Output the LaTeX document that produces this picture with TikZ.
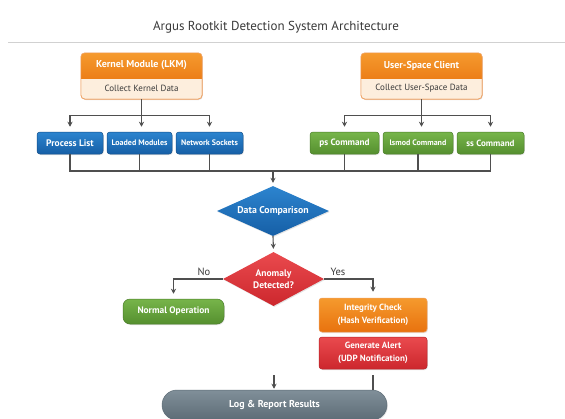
\documentclass[tikz,border=0pt]{standalone}
\usepackage{fontspec}
\setmainfont{PT Sans}
\usetikzlibrary{shapes.geometric,shadows,arrows.meta}
\definecolor{linec}{HTML}{4F4F4F}
\definecolor{titlec}{HTML}{3A3A3A}
\definecolor{ort}{HTML}{F59A2E}
\definecolor{ord}{HTML}{E8720E}
\definecolor{orb}{HTML}{F0A060}
\definecolor{lightor}{HTML}{FDEEDD}
\definecolor{bluet}{HTML}{2C84CF}
\definecolor{blued}{HTML}{165FA6}
\definecolor{blueb}{HTML}{134F8A}
\definecolor{greent}{HTML}{77B54A}
\definecolor{greend}{HTML}{558F2F}
\definecolor{greenb}{HTML}{4A7D29}
\definecolor{redt}{HTML}{EA4A4E}
\definecolor{redd}{HTML}{CC272D}
\definecolor{redb}{HTML}{B52227}
\definecolor{grayt}{HTML}{808F99}
\definecolor{grayd}{HTML}{5D6C76}
\newcommand{\fs}[1]{\fontsize{#1}{#1}\selectfont}
\begin{document}
\begin{tikzpicture}[x=1pt,y=-1pt,
  line/.style={draw=linec, line width=1.1pt},
  arr/.style={line, -{Stealth[length=5pt,width=5pt]}},
  shad/.style={drop shadow={opacity=0.22, shadow xshift=0.8pt, shadow yshift=-1pt}},
  boxbase/.style={rounded corners=3pt, inner sep=0pt, text=white, shad, line width=0.5pt},
  bluebox/.style={boxbase, draw=blueb, top color=bluet, bottom color=blued, minimum height=22pt},
  greenbox/.style={boxbase, draw=greenb, top color=greent, bottom color=greend, minimum height=22pt},
  hdr/.style={text=white, font=\bfseries\fs{10}, inner sep=0pt},
  sub/.style={text=titlec, font=\fs{9}, inner sep=0pt},
  diam/.style={diamond, inner sep=0pt, text=white, shad, align=center},
  lbl/.style={text=titlec, font=\fs{10.5}, inner sep=0pt}
]
\useasboundingbox (0,0) rectangle (565,418);
\fill[white] (0,0) rectangle (565,418);

% title
\node[text=titlec, font=\fs{13}, inner sep=0pt] (title) at (276,27) {Argus Rootkit Detection System Architecture};
\draw[black!18, line width=0.8pt] (8,42) -- (565,42);

% kernel module box
\node[draw=orb, fill=lightor, rounded corners=4pt, minimum width=121pt, minimum height=46pt, inner sep=0pt, shad] (kernbox) at (141.5,76) {};
\begin{scope}
  \clip (81,53) rectangle (202,78);
  \shade[top color=ort, bottom color=ord, rounded corners=4pt] (81,53) rectangle (202,90);
\end{scope}
\draw[orb, rounded corners=4pt, line width=0.6pt] (kernbox.north west) rectangle (kernbox.south east);
\node[hdr] (kern) at (141.5,65.5) {Kernel Module (LKM)};
\node[sub] (kernd) at (141.5,88.5) {Collect Kernel Data};

% user space box
\node[draw=orb, fill=lightor, rounded corners=4pt, minimum width=121pt, minimum height=46pt, inner sep=0pt, shad] (usrbox) at (421.5,76) {};
\begin{scope}
  \clip (361,53) rectangle (482,78);
  \shade[top color=ort, bottom color=ord, rounded corners=4pt] (361,53) rectangle (482,90);
\end{scope}
\draw[orb, rounded corners=4pt, line width=0.6pt] (usrbox.north west) rectangle (usrbox.south east);
\node[hdr] (usr) at (421.5,65.5) {User-Space Client};
\node[sub] (usrd) at (421.5,88.5) {Collect User-Space Data};

% data source boxes
\node[bluebox, minimum width=66pt, font=\bfseries\fs{9.5}] (proc) at (70,143) {Process List};
\node[bluebox, minimum width=65pt, font=\bfseries\fs{8}] (lmod) at (139.5,143) {Loaded Modules};
\node[bluebox, minimum width=67pt, font=\bfseries\fs{8}] (nsock) at (209.5,143) {Network Sockets};
\node[greenbox, minimum width=69pt, font=\bfseries\fs{9.2}] (psc) at (344.5,143) {ps Command};
\node[greenbox, minimum width=70pt, font=\bfseries\fs{8}] (lsm) at (418,143) {lsmod Command};
\node[greenbox, minimum width=67pt, font=\bfseries\fs{9}] (ssc) at (490.5,143) {ss Command};

% branches from collectors
\draw[line] (kernbox.south) -- ++(0,16) coordinate (kj);
\draw[arr, shorten >=5pt] (kj) -| (proc.north);
\draw[arr, shorten >=5pt] (kj) -- (kj |- lmod.north);
\draw[arr, shorten >=5pt] (kj) -| (nsock.north);
\draw[line] (usrbox.south) -- ++(0,16) coordinate (uj);
\draw[arr, shorten >=5pt] (uj) -| (psc.north);
\draw[arr, shorten >=5pt] (uj) -- (uj |- lsm.north);
\draw[arr, shorten >=5pt] (uj) -| (ssc.north);

% diamonds
\node[diam, aspect=2.24, minimum width=112pt, minimum height=50pt, top color=bluet, bottom color=blued, font=\bfseries\fs{9.8}] (cmp) at (273,211) {Data Comparison};
\node[diam, aspect=1.87, minimum width=101pt, minimum height=54pt, top color=redt, bottom color=redd, font=\bfseries\fontsize{9.5}{12.5}\selectfont] (anom) at (273.5,279) {Anomaly\\Detected?};

% bus
\coordinate (busy) at (0,171);
\draw[line] (proc.south) |- (ssc.south |- busy) -- (ssc.south);
\foreach \n in {lmod,nsock,psc,lsm} {\draw[line] (\n.south) -- (\n.south |- busy);}
\draw[arr, shorten >=3pt] (cmp.north |- busy) -- (cmp.north);
\draw[arr, shorten >=3pt] (cmp.south) -- (anom.north);

% outcomes
\node[boxbase, rounded corners=7pt, draw=greenb, top color=greent, bottom color=greend, minimum width=101pt, minimum height=25pt, font=\bfseries\fs{9.4}] (norm) at (173.5,311.5) {Normal Operation};
\node[boxbase, draw=orb, top color=ort, bottom color=ord, minimum width=108pt, minimum height=34pt, align=center, font=\bfseries\fontsize{9}{13}\selectfont] (integ) at (373,315) {Integrity Check\\(Hash Verification)};
\node[boxbase, draw=redb, top color=redt, bottom color=redd, minimum width=108pt, minimum height=32pt, align=center, font=\bfseries\fontsize{9}{13}\selectfont] (alert) at (373,353) {Generate Alert\\(UDP Notification)};
\node[boxbase, rounded corners=15pt, draw=grayd, top color=grayt, bottom color=grayd, minimum width=225pt, minimum height=30pt, font=\bfseries\fs{10}] (log) at (274.5,405) {Log \& Report Results};

\draw[arr, shorten >=5pt] (anom.west) -| (norm.north);
\draw[arr, shorten >=6pt] (anom.east) -| (integ.north);
\node[lbl] (nolbl) at (204,272) {No};
\node[lbl] (yeslbl) at (338,272) {Yes};

\draw[line, shorten <=6pt] (alert.south) -- (alert.south |- log.north);
\coordinate (fa) at (274,375);
\draw[arr, shorten >=1pt] (fa) -- (fa |- log.north);
\end{tikzpicture}
\end{document}
